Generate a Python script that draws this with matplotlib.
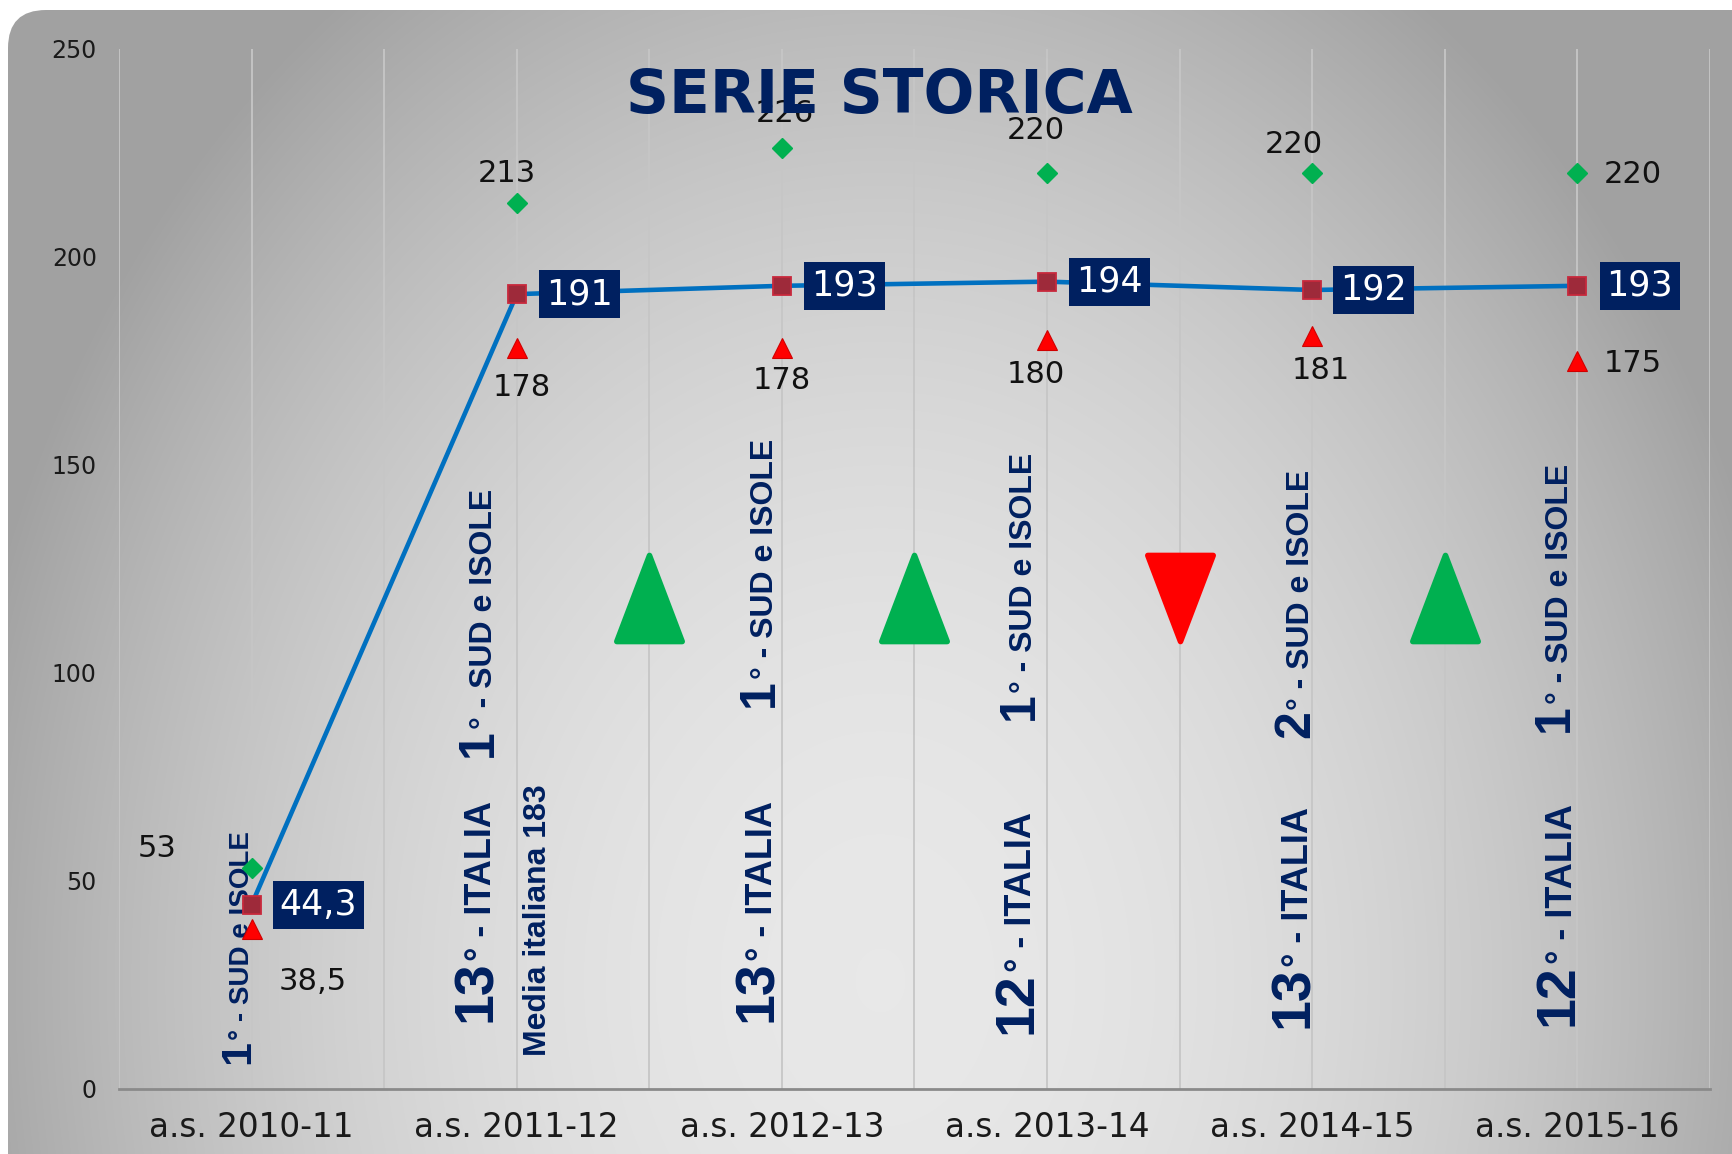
import numpy as np
import matplotlib
matplotlib.use("Agg")
import matplotlib.pyplot as plt
from matplotlib.patches import FancyBboxPatch
from matplotlib.path import Path
from matplotlib.markers import MarkerStyle
from matplotlib.transforms import ScaledTranslation

# ---------------- data ----------------
categories = ["a.s. 2010-11", "a.s. 2011-12", "a.s. 2012-13",
              "a.s. 2013-14", "a.s. 2014-15", "a.s. 2015-16"]
media = [44.3, 191, 193, 194, 192, 193]
massimo = [53, 213, 226, 220, 220, 220]
minimo = [38.5, 178, 178, 180, 181, 175]
media_labels = ["44,3", "191", "193", "194", "192", "193"]
max_labels = ["53", "213", "226", "220", "220", "220"]
min_labels = ["38,5", "178", "178", "180", "181", "175"]
rank_sud = ["1°", "1°", "1°", "1°", "2°", "1°"]
rank_italia = [None, "13°", "13°", "12°", "13°", "12°"]
media_italiana = "Media italiana 183"
trend = ["up", "up", "down", "up"]          # between consecutive years 2011-12 .. 2015-16
yticks = [0, 50, 100, 150, 200, 250]

# ---------------- layout (positions / styles) ----------------
W, H = 1733, 1154
NAVY = "#002060"
max_off = [(-68, 14), (-7, 21), (2, 25), (-8, 31), (-13, 21), (40, -1)]
min_off = [(44, -38), (4, -28), (0, -23), (-8, -25), (6, -25), (40, -2)]
box_off = [(48, 0), (45, 0), (45, 0), (45, 0), (44, 0), (45, 0)]
sud_pos = [(-0.01, 6.1), (-0.095, 79.8), (-0.035, 91.8), (-0.055, 88.6), (-0.012, 84.3), (-0.035, 85.9)]
ita_pos = [None, (-0.097, 16.0), (-0.037, 16.0), (-0.06, 13.3), (-0.017, 14.6), (-0.02, 15.2)]
media_it_pos = (0.11, 8.0)
trend_y = 118

fig = plt.figure(figsize=(W / 100, H / 100), dpi=100)
fig.patch.set_facecolor("white")

# background rounded panel with radial grey gradient
bg = fig.add_axes([0, 0, 1, 1], zorder=-5)
bg.set_xlim(0, W)
bg.set_ylim(H, 0)
bg.axis("off")
yy, xx = np.mgrid[0:H, 0:W]
d2 = ((xx - 880) / 900.0) ** 2 + ((yy - 980) / 1150.0) ** 2
v = np.clip(0.91 - 0.255 * d2, 0.635, 0.92)
img = np.dstack([v, v, v])
im = bg.imshow(img, extent=(0, W, H, 0), interpolation="bilinear", aspect="auto")
panel = FancyBboxPatch((8, 10), W + 60, H + 60,
                       boxstyle="round,pad=0,rounding_size=38",
                       transform=bg.transData, fc="none", ec="none")
bg.add_patch(panel)
im.set_clip_path(panel)

# main axes
ax = fig.add_axes([119 / W, 1 - 1089 / H, (1710 - 119) / W, (1089 - 48.6) / H])
ax.set_facecolor("none")
ax.set_xlim(-0.5, 5.5)
ax.set_ylim(0, 250)
for xg in np.arange(-0.5, 5.51, 0.5):
    ax.axvline(xg, color="#c6c6c6", lw=1.3, zorder=0)
for s in ["top", "right", "left"]:
    ax.spines[s].set_visible(False)
ax.spines["bottom"].set_color("#8a8a8a")
ax.spines["bottom"].set_linewidth(2)
ax.set_xticks(range(len(categories)))
ax.set_xticklabels(categories, fontsize=23.5, color="#1a1a1a", family="DejaVu Sans")
ax.set_yticks(yticks)
ax.set_yticklabels([str(t) for t in yticks], fontsize=17, color="#1a1a1a", family="DejaVu Sans")
ax.tick_params(axis="x", length=0, pad=16)
ax.tick_params(axis="y", length=0, pad=16)

x = np.arange(len(categories))
ax.plot(x, media, color="#0070C0", lw=3.3, zorder=3)
ax.plot(x, media, "s", ms=13, mfc="#9E2A3A", mec="#C8283C", mew=1.3, zorder=4)
ax.plot(x, massimo, "D", ms=10, color="#00B050", zorder=4)
ax.plot(x, minimo, "^", ms=14.5, color="#FF0000", mec="#D00000", mew=0.8, zorder=4)

for i in range(len(categories)):
    ax.annotate(max_labels[i], (x[i], massimo[i]), xytext=max_off[i], textcoords="offset points",
                ha="center", va="center", fontsize=22, color="#111111", family="DejaVu Sans", zorder=5)
    ax.annotate(min_labels[i], (x[i], minimo[i]), xytext=min_off[i], textcoords="offset points",
                ha="center", va="center", fontsize=22, color="#111111", family="DejaVu Sans", zorder=5)
    ax.annotate(media_labels[i], (x[i], media[i]), xytext=box_off[i], textcoords="offset points",
                ha="center", va="center", fontsize=25, color="white", family="DejaVu Sans", zorder=6,
                bbox=dict(boxstyle="square,pad=0.2", fc=NAVY, ec="none"))

# trend arrows between years
up_path = Path([(-0.38, -0.5), (0.38, -0.5), (0.0, 0.5), (-0.38, -0.5)],
               [Path.MOVETO, Path.LINETO, Path.LINETO, Path.CLOSEPOLY])
down_path = Path([(-0.38, 0.5), (0.38, 0.5), (0.0, -0.5), (-0.38, 0.5)],
                 [Path.MOVETO, Path.LINETO, Path.LINETO, Path.CLOSEPOLY])
up_marker = MarkerStyle(up_path, joinstyle="round")
down_marker = MarkerStyle(down_path, joinstyle="round")
for k, t in enumerate(trend):
    xt = 1.5 + k
    if t == "up":
        ax.plot([xt], [trend_y], marker=up_marker, ms=62, color="#00B050", mec="#00B050",
                mew=4, zorder=2)
    else:
        ax.plot([xt], [trend_y], marker=down_marker, ms=62, color="#FF0000", mec="#FF0000",
                mew=4, zorder=2)

# rotated ranking texts
renderer = fig.canvas.get_renderer()


def vtext(xv, yv, parts):
    off = 0.0
    for s, fs in parts:
        tr = ax.transData + ScaledTranslation(0, off / 72.0, fig.dpi_scale_trans)
        t = ax.text(xv, yv, s, rotation=90, rotation_mode="anchor", ha="left", va="baseline",
                    fontsize=fs, fontweight="bold", color=NAVY, family="Liberation Sans",
                    transform=tr, zorder=2)
        bb = t.get_window_extent(renderer)
        off += bb.height * 72.0 / fig.dpi


for i in range(len(categories)):
    dx, yv = sud_pos[i]
    num = rank_sud[i][:-1]
    if i == 0:
        vtext(x[i] + dx, yv, [(num, 31), ("° - SUD e ISOLE", 20)])
    else:
        vtext(x[i] + dx, yv, [(num, 36), ("° - SUD e ISOLE", 23)])
    if rank_italia[i] is not None:
        dx, yv = ita_pos[i]
        num = rank_italia[i][:-1]
        vtext(x[i] + dx, yv, [(num, 40), ("° - ITALIA", 26)])

vtext(1 + media_it_pos[0], media_it_pos[1], [(media_italiana, 23)])

fig.text(879 / W, 1 - 112.7 / H, "SERIE STORICA", ha="center", va="baseline",
         fontsize=43, fontweight="bold", color=NAVY, family="DejaVu Sans", zorder=10)

fig.savefig("out.png", dpi=100)
